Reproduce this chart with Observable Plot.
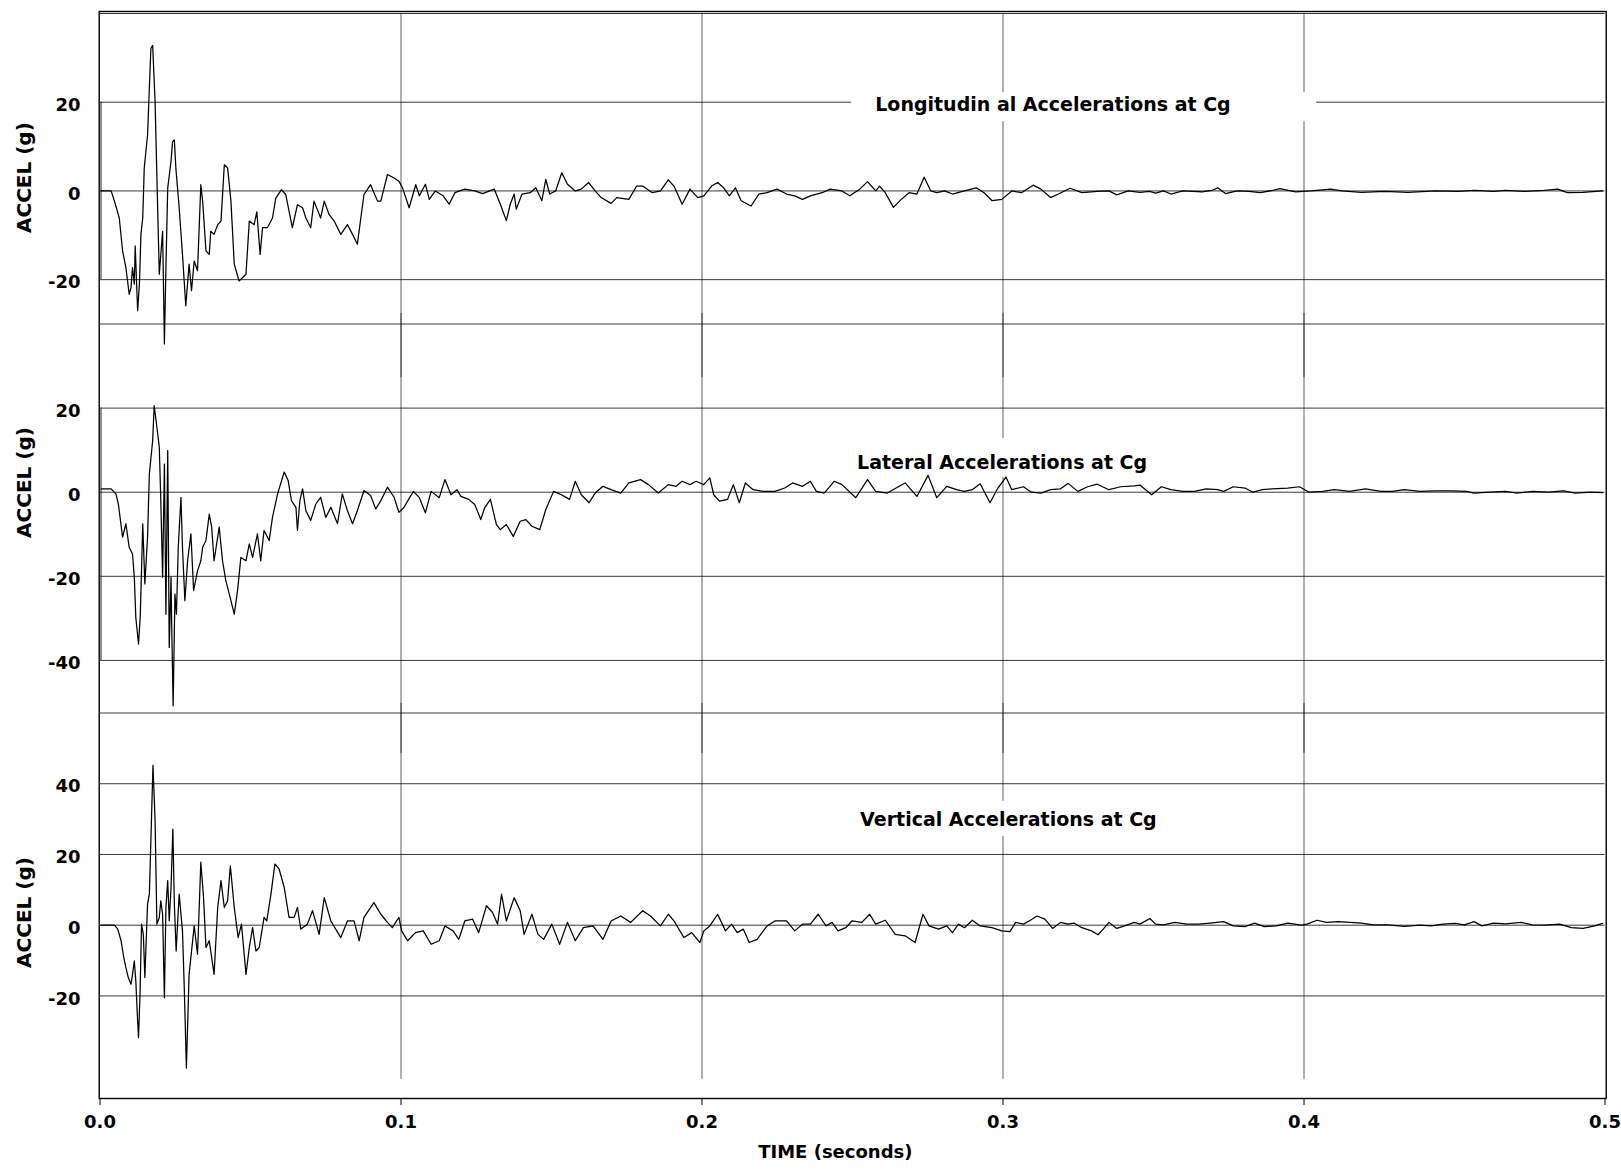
<!DOCTYPE html>
<html><head><meta charset="utf-8">
<script src="https://cdn.jsdelivr.net/npm/d3@7"></script>
<script src="https://cdn.jsdelivr.net/npm/@observablehq/plot@0.6"></script>
<style>
html,body{margin:0;padding:0;background:#fff;}
#chart{position:relative;width:1621px;height:1172px;background:#fff;overflow:hidden;}
#chart svg{position:absolute;left:0;top:0;max-width:none;}
</style></head><body><div id="chart"></div>
<script>
// ---- data (time in seconds, acceleration in g) ----
const timeTicks = [0, 0.1, 0.2, 0.3, 0.4, 0.5];
const gridTimes = [0.1, 0.2, 0.3, 0.4];
const longTicks = [20, 0, -20];
const latTicks = [20, 0, -20, -40];
const vertTicks = [40, 20, 0, -20];
const titles = ["Longitudin al Accelerations at Cg", "Lateral Accelerations at Cg", "Vertical Accelerations at Cg"];
const yLabel = "ACCEL (g)";
const xLabel = "TIME (seconds)";

const longitudinal = [[0.0004,0],[0.0037,0],[0.0048,-2.3],[0.0064,-6.1],[0.0075,-13.5],[0.0086,-17.3],[0.0097,-23.3],[0.0103,-21.8],[0.0108,-17.3],[0.0114,-21.0],[0.0117,-12.4],[0.0125,-27.0],[0.0131,-21.0],[0.0136,-9.8],[0.0142,-6.1],[0.0147,5.2],[0.0158,12.6],[0.0169,32.1],[0.0175,32.8],[0.0183,20.1],[0.0191,-2.3],[0.0197,-18.8],[0.0208,-9.1],[0.0214,-34.5],[0.0219,-17.3],[0.0225,0.7],[0.0236,6.7],[0.0241,11.1],[0.0247,11.5],[0.0252,5.2],[0.0263,-3.8],[0.0274,-14.3],[0.0285,-25.9],[0.0296,-16.5],[0.0304,-22.5],[0.0313,-15.8],[0.0324,-18.0],[0.0335,1.4],[0.0341,-2.3],[0.0352,-13.5],[0.0363,-14.3],[0.0368,-9.1],[0.0379,-9.8],[0.0391,-7.6],[0.0402,-6.8],[0.0413,5.9],[0.0424,5.2],[0.0435,-2.3],[0.0446,-16.5],[0.0462,-20.3],[0.0485,-18.8],[0.0496,-6.8],[0.0512,-7.6],[0.0521,-4.7],[0.0532,-14.3],[0.0540,-8.3],[0.0556,-8.3],[0.0573,-6.1],[0.0584,-1.6],[0.0603,0.3],[0.0617,-0.8],[0.0639,-8.3],[0.0656,-3.1],[0.0673,-3.8],[0.0684,-6.1],[0.0700,-8.3],[0.0711,-2.3],[0.0733,-6.1],[0.0745,-2.3],[0.0761,-5.3],[0.0778,-6.8],[0.0800,-9.8],[0.0822,-7.6],[0.0839,-9.8],[0.0855,-12.0],[0.0877,-0.8],[0.0899,1.4],[0.0922,-2.3],[0.0933,-2.3],[0.0955,3.7],[0.0977,2.9],[0.0993,2.2],[0.1005,0.7],[0.1027,-3.8],[0.1049,1.4],
[0.1061,-1.1],[0.1081,1.5],[0.1094,-1.9],[0.1114,0],[0.1140,-1.1],[0.1160,-3.0],[0.1179,-0.4],[0.1212,0.4],[0.1245,0],[0.1271,-0.6],[0.1310,0.4],[0.1330,-3.0],[0.1350,-6.7],[0.1363,-3.0],[0.1376,-0.7],[0.1383,-4.1],[0.1402,-0.7],[0.1429,-0.4],[0.1448,0.7],[0.1468,-2.2],[0.1481,2.6],[0.1494,-0.7],[0.1514,0],[0.1534,4.1],[0.1553,1.5],[0.1579,0],[0.1599,0.4],[0.1623,1.9],[0.1645,0],[0.1665,-1.5],[0.1698,-2.8],[0.1717,-1.5],[0.1757,-1.9],[0.1783,1.1],[0.1803,1.1],[0.1835,-0.4],[0.1862,0],[0.1888,2.5],[0.1907,1.1],[0.1934,-3.0],[0.1960,0.4],[0.1986,-1.5],[0.2006,-1.1],[0.2032,1.1],[0.2052,1.9],[0.2072,0.7],[0.2091,-1.1],[0.2111,0.7],[0.2130,-2.2],[0.2163,-3.4],[0.2189,-0.7],[0.2216,-0.4],[0.2249,0.4],[0.2281,-0.7],[0.2308,-1.1],[0.2334,-1.9],[0.2360,-1.1],[0.2399,-0.4],[0.2426,0.4],[0.2465,0],[0.2491,-1.1],[0.2524,0.4],[0.2550,2.1],[0.2577,0],[0.2590,1.1],[0.2609,-0.4],[0.2636,-3.7],[0.2662,-1.9],[0.2688,-0.4],[0.2714,-0.7],[0.2738,3.1],[0.2760,0],[0.2780,-0.4],[0.2806,0],[0.2832,-0.7],[0.2872,0],[0.2911,0.7],[0.2937,-0.4],[0.2964,-2.2],[0.2996,-1.9],
[0.3029,0],[0.3061,-0.4],[0.3100,1.3],[0.3126,0.4],[0.3158,-1.5],[0.3184,-0.7],[0.3223,0.6],[0.3262,-0.4],[0.3313,-0.1],[0.3352,0],[0.3378,-0.9],[0.3416,0],[0.3455,-0.3],[0.3487,-0.1],[0.3507,-0.5],[0.3533,0],[0.3558,-0.7],[0.3597,0],[0.3662,-0.2],[0.3694,0.1],[0.3713,0.7],[0.3739,-0.6],[0.3778,0],[0.3817,-0.1],[0.3855,-0.4],[0.3894,0.1],[0.3920,0.5],[0.3972,-0.2],[0.4023,0],[0.4088,0.4],[0.4126,0],[0.4191,-0.3],[0.4268,-0.1],[0.4346,-0.3],[0.4436,0],[0.4514,-0.1],[0.4565,0.1],[0.4630,-0.1],[0.4669,0.1],[0.4733,-0.1],[0.4798,0.1],[0.4843,0.4],[0.4875,-0.4],[0.4927,-0.3],[0.4992,0]];

const lateral = [[0.0004,0.8],[0.0037,0.8],[0.0053,-0.4],[0.0061,-2.8],[0.0075,-10.7],[0.0086,-7.5],[0.0097,-13.1],[0.0108,-14.7],[0.0114,-20.2],[0.0119,-29.8],[0.0128,-36.1],[0.0134,-29.0],[0.0142,-7.5],[0.0149,-21.8],[0.0158,-10.7],[0.0164,4.4],[0.0175,12.3],[0.0180,20.6],[0.0189,15.5],[0.0197,10.7],[0.0202,-2.0],[0.0208,-20.2],[0.0214,6.7],[0.0219,-29.0],[0.0225,9.9],[0.0230,-36.9],[0.0236,-20.2],[0.0238,-30.6],[0.0243,-50.8],[0.0249,-24.2],[0.0254,-29.0],[0.0260,-13.1],[0.0269,-1.2],[0.0274,-13.1],[0.0282,-25.8],[0.0291,-16.3],[0.0302,-9.9],[0.0311,-23.4],[0.0324,-18.7],[0.0335,-16.3],[0.0341,-13.1],[0.0352,-11.5],[0.0363,-5.2],[0.0371,-8.3],[0.0379,-16.3],[0.0396,-8.3],[0.0407,-16.3],[0.0418,-21.0],[0.0435,-25.8],[0.0446,-29.0],[0.0457,-23.4],[0.0468,-15.5],[0.0485,-16.3],[0.0496,-12.3],[0.0507,-15.5],[0.0523,-9.9],[0.0534,-16.3],[0.0545,-9.1],[0.0562,-11.5],[0.0573,-6.0],[0.0590,-0.4],[0.0612,4.8],[0.0625,2.8],[0.0636,-2.0],[0.0651,-3.6],[0.0656,-9.1],[0.0664,-2.0],[0.0673,0.8],[0.0684,-4.4],[0.0700,-6.7],[0.0717,-2.8],[0.0733,-1.2],[0.0750,-6.0],[0.0767,-3.6],[0.0789,-7.5],[0.0805,-0.4],[0.0822,-4.4],[0.0839,-7.5],[0.0855,-4.4],[0.0877,0.4],[0.0899,-0.8],[0.0916,-4.0],[0.0933,-2.0],[0.0955,1.2],[0.0977,-1.2],[0.0993,-4.8],
[0.1009,-3.7],[0.1041,0.2],[0.1061,-1.3],[0.1081,-4.9],[0.1100,0.2],[0.1127,-1.3],[0.1146,3.0],[0.1166,-0.6],[0.1186,0.6],[0.1199,-1.0],[0.1225,-1.7],[0.1245,-2.9],[0.1265,-6.5],[0.1278,-3.7],[0.1297,-1.7],[0.1317,-7.7],[0.1330,-8.9],[0.1350,-7.7],[0.1373,-10.5],[0.1396,-6.9],[0.1415,-6.5],[0.1435,-8.1],[0.1461,-8.9],[0.1481,-4.1],[0.1507,0.2],[0.1533,-0.6],[0.1560,-1.7],[0.1579,2.6],[0.1599,-0.6],[0.1625,-2.5],[0.1645,-0.2],[0.1671,1.4],[0.1698,0.6],[0.1730,-0.2],[0.1757,2.2],[0.1796,3.0],[0.1822,1.8],[0.1855,-0.2],[0.1888,1.8],[0.1914,1.4],[0.1934,2.6],[0.1960,1.8],[0.1980,2.6],[0.2006,1.8],[0.2026,3.4],[0.2039,-0.6],[0.2058,-2.1],[0.2085,-1.7],[0.2104,1.8],[0.2124,-2.5],[0.2144,2.2],[0.2170,0.6],[0.2203,0.2],[0.2242,0.2],[0.2275,1.0],[0.2301,2.2],[0.2334,1.4],[0.2360,2.6],[0.2380,0.2],[0.2406,-0.2],[0.2439,2.6],[0.2465,1.8],[0.2511,-1.3],[0.2550,3.0],[0.2577,0.2],[0.2616,-0.2],[0.2655,1.4],[0.2675,2.2],[0.2714,-1.0],[0.2751,4.0],[0.2780,-1.3],[0.2813,1.4],[0.2846,0.6],[0.2872,0.2],[0.2898,0.6],[0.2924,2.0],[0.2957,-2.5],[0.2983,1.0],[0.3010,3.6],
[0.3029,0.6],[0.3068,1.3],[0.3094,0],[0.3126,-0.2],[0.3158,0.6],[0.3191,0.8],[0.3216,2.1],[0.3249,0.2],[0.3281,1.3],[0.3313,1.9],[0.3352,0.6],[0.3391,1.3],[0.3436,1.5],[0.3455,1.7],[0.3494,-0.6],[0.3526,1.3],[0.3558,0.6],[0.3597,0.2],[0.3636,0.2],[0.3675,0.8],[0.3713,0.6],[0.3733,0.2],[0.3765,1.3],[0.3804,1.0],[0.3830,0],[0.3862,0.6],[0.3894,0.8],[0.3946,1.0],[0.3985,1.3],[0.4017,0],[0.4062,0.2],[0.4101,0.6],[0.4152,0.2],[0.4204,0.8],[0.4256,0.2],[0.4294,0.2],[0.4333,0.6],[0.4385,0.2],[0.4436,0.3],[0.4488,0.3],[0.4540,0.2],[0.4565,-0.2],[0.4617,0],[0.4669,0.2],[0.4708,-0.2],[0.4759,0.2],[0.4811,0],[0.4862,0.3],[0.4901,-0.2],[0.4953,0],[0.4992,-0.1]];

const vertical = [[0.0003,0],[0.0048,0],[0.0059,-1.1],[0.0070,-4.4],[0.0079,-9.2],[0.0086,-12.0],[0.0094,-14.8],[0.0103,-16.7],[0.0108,-13.9],[0.0114,-10.1],[0.0119,-15.8],[0.0125,-27.1],[0.0128,-31.8],[0.0133,-19.6],[0.0138,0.3],[0.0144,-2.6],[0.0149,-14.8],[0.0158,6.0],[0.0164,8.8],[0.0169,23.9],[0.0176,45.2],[0.0183,29.6],[0.0189,0.3],[0.0197,2.2],[0.0202,6.9],[0.0208,3.1],[0.0214,-20.5],[0.0219,5.0],[0.0225,12.6],[0.0230,1.2],[0.0236,10.7],[0.0242,27.2],[0.0247,6.0],[0.0253,-7.3],[0.0263,8.8],[0.0274,-1.6],[0.0280,-17.7],[0.0287,-40.4],[0.0296,-13.9],[0.0313,-0.2],[0.0324,-8.2],[0.0335,17.8],[0.0344,7.8],[0.0352,-6.3],[0.0363,-4.4],[0.0379,-13.9],[0.0391,5.0],[0.0402,12.6],[0.0413,5.0],[0.0424,6.9],[0.0433,16.8],[0.0446,5.0],[0.0459,-3.5],[0.0470,0.3],[0.0485,-13.9],[0.0496,-6.3],[0.0507,-0.7],[0.0518,-7.3],[0.0529,-6.3],[0.0545,2.2],[0.0554,1.2],[0.0568,8.8],[0.0581,17.3],[0.0595,15.9],[0.0612,10.7],[0.0628,2.2],[0.0645,2.2],[0.0656,5.0],[0.0667,-1.1],[0.0689,0.3],[0.0706,4.1],[0.0728,-2.6],[0.0745,7.8],[0.0767,1.2],[0.0800,-3.5],[0.0822,1.2],[0.0844,1.2],[0.0861,-4.4],[0.0877,2.2],[0.0910,6.4],[0.0933,3.1],[0.0955,0.8],[0.0971,-0.7],[0.0993,2.2],
[0.1002,-1.6],[0.1022,-4.4],[0.1048,-2.1],[0.1074,-1.6],[0.1100,-5.4],[0.1127,-4.4],[0.1146,-0.2],[0.1173,-1.6],[0.1192,-4.0],[0.1212,1.2],[0.1238,1.7],[0.1258,-2.1],[0.1284,5.5],[0.1304,3.6],[0.1321,0.3],[0.1334,8.8],[0.1350,1.2],[0.1376,7.8],[0.1396,4.1],[0.1409,-2.6],[0.1435,3.1],[0.1455,-2.6],[0.1474,-4.0],[0.1501,0.3],[0.1527,-5.4],[0.1553,0.8],[0.1579,-4.4],[0.1606,-0.7],[0.1638,-0.2],[0.1671,-4.0],[0.1698,1.2],[0.1730,2.6],[0.1763,0.8],[0.1803,4.1],[0.1829,2.6],[0.1862,-0.2],[0.1888,3.1],[0.1907,1.2],[0.1940,-3.5],[0.1966,-2.1],[0.1993,-4.9],[0.2006,-1.6],[0.2026,-0.2],[0.2052,3.1],[0.2078,-1.6],[0.2098,0.3],[0.2117,-2.1],[0.2137,-1.1],[0.2157,-4.9],[0.2183,-4.0],[0.2216,-0.2],[0.2242,1.2],[0.2281,1.2],[0.2308,-1.6],[0.2334,0.3],[0.2360,0.3],[0.2386,3.1],[0.2412,-0.2],[0.2432,0.8],[0.2452,-1.6],[0.2478,-0.7],[0.2498,1.2],[0.2531,0.8],[0.2557,3.1],[0.2577,0.3],[0.2609,1.4],[0.2642,-2.6],[0.2675,-3.0],[0.2708,-4.9],[0.2734,3.1],[0.2754,-0.2],[0.2786,-1.1],[0.2813,-0.2],[0.2832,-2.1],[0.2852,0.3],[0.2872,-0.7],[0.2898,1.4],[0.2924,-0.2],[0.2963,-0.7],[0.2996,-1.6],
[0.3023,-1.8],[0.3042,0.8],[0.3068,0.3],[0.3087,1.2],[0.3113,2.6],[0.3139,1.7],[0.3165,-0.9],[0.3191,0.8],[0.3216,0.3],[0.3236,0.6],[0.3262,-0.7],[0.3294,-1.6],[0.3316,-2.7],[0.3333,-1.1],[0.3352,0.8],[0.3378,-0.9],[0.3404,-0.2],[0.3436,0.8],[0.3455,0.3],[0.3488,1.9],[0.3507,0.3],[0.3533,0.1],[0.3571,0.8],[0.3610,0.3],[0.3649,0.3],[0.3688,0.6],[0.3733,1.0],[0.3765,-0.2],[0.3804,-0.4],[0.3836,0.6],[0.3868,-0.4],[0.3907,-0.2],[0.3946,0.6],[0.3991,0],[0.4010,0.3],[0.4043,1.4],[0.4075,0.8],[0.4114,1.0],[0.4152,0.8],[0.4191,0.6],[0.4230,0.1],[0.4281,0.1],[0.4333,-0.3],[0.4385,0],[0.4423,-0.2],[0.4462,0.3],[0.4501,0.5],[0.4533,0.1],[0.4565,1.0],[0.4591,-0.2],[0.4630,0.6],[0.4669,0.4],[0.4720,0.8],[0.4759,0.1],[0.4798,0],[0.4850,0.3],[0.4888,-0.7],[0.4927,-0.9],[0.4966,-0.2],[0.4992,0.5]];

// ---- layout ----
const W = 1621, H = 1172;
const FONT = "'DejaVu Sans', 'Liberation Sans', sans-serif";
const ML = 99.5, MR = 16.5;
const style = {background: "transparent", fontFamily: FONT, overflow: "visible", color: "#000"};

const chart = document.getElementById("chart");

const base = Plot.plot({
  width: W, height: H, marginLeft: ML, marginRight: MR, marginTop: 11, marginBottom: 74,
  style,
  x: {domain: [0, 0.5], axis: null},
  y: {domain: [0, 1], axis: null},
  marks: [
    Plot.frame({stroke: "#000", strokeWidth: 1.4, insetLeft: -0.8, insetRight: -1.2}),
    Plot.axisX({ticks: timeTicks, tickSize: 7, tickPadding: 10, tickFormat: d3.format(".1f"),
      fontSize: 18, fontWeight: "bold", label: null, stroke: "#000"}),
    Plot.text([xLabel], {x: 0.2443, frameAnchor: "bottom", dy: 59, fontSize: 18, fontWeight: "bold", fill: "#000"})
  ]
});
chart.append(base);

function panel(o) {
  return Plot.plot({
    width: W, height: H, marginLeft: ML, marginRight: MR,
    marginTop: o.top, marginBottom: H - o.bottom,
    style,
    x: {domain: [0, 0.5], axis: null},
    y: {domain: o.domain, axis: null},
    marks: [
      Plot.ruleY(o.hRules, {stroke: "#3a3a3a", strokeWidth: 1}),
      Plot.ruleX(gridTimes, {y1: o.vExtent[0], y2: o.vExtent[1], stroke: "#000", strokeOpacity: 0.62, strokeWidth: 1}),
      o.leftBar ? Plot.ruleX([0], {y1: o.leftBar[0], y2: o.leftBar[1], dx: 1, stroke: "#222", strokeWidth: 1}) : null,
      Plot.rect([o.box], {x1: o.box[0], x2: o.box[1], y1: o.box[2], y2: o.box[3], fill: "#fff"}),
      Plot.line(o.data, {x: d => d[0], y: d => d[1], stroke: "#000", strokeWidth: 1.25}),
      Plot.axisY({ticks: o.ticks, tickSize: 0, tickPadding: 19.5, dy: 3, tickFormat: d => String(d),
        fontSize: 18, fontWeight: "bold", label: null, fill: "#000"}),
      Plot.text([o.title], {x: o.titleAt[0], y: o.titleAt[1], fontSize: 19, fontWeight: "bold", fill: "#000", textAnchor: "middle", lineAnchor: "middle"}),
      Plot.text([yLabel], {x: 0, y: o.labelY, dx: -75.5, rotate: -90, fontSize: 20, fontWeight: "bold", fill: "#000", lineAnchor: "middle"})
    ]
  });
}

chart.append(panel({
  data: longitudinal, domain: [-30, 40], top: 13, bottom: 323.5,
  ticks: longTicks, hRules: [40, 20, 0, -20, -30], vExtent: [40, -42.1], leftBar: [20, -20],
  box: [0.2497, 0.4042, 22.2, 15.6], title: titles[0], titleAt: [0.3166, 19.4], labelY: 3.0
}));
chart.append(panel({
  data: lateral, domain: [-52.5, 40], top: 323.5, bottom: 712.5,
  ticks: latTicks, hRules: [20, 0, -20, -40, -52.5], vExtent: [42.5, -62.1], leftBar: [20, -40],
  box: [0.25, 0.35, 12.8, 3.5], title: titles[1], titleAt: [0.2997, 6.95], labelY: 2.3
}));
chart.append(panel({
  data: vertical, domain: [-49, 60], top: 712.5, bottom: 1098,
  ticks: vertTicks, hRules: [40, 20, 0, -20], vExtent: [62.7, -43.6], leftBar: null,
  box: [0.25, 0.36, 35.0, 25.1], title: titles[2], titleAt: [0.3018, 29.9], labelY: 3.6
}));
</script>
</body></html>
